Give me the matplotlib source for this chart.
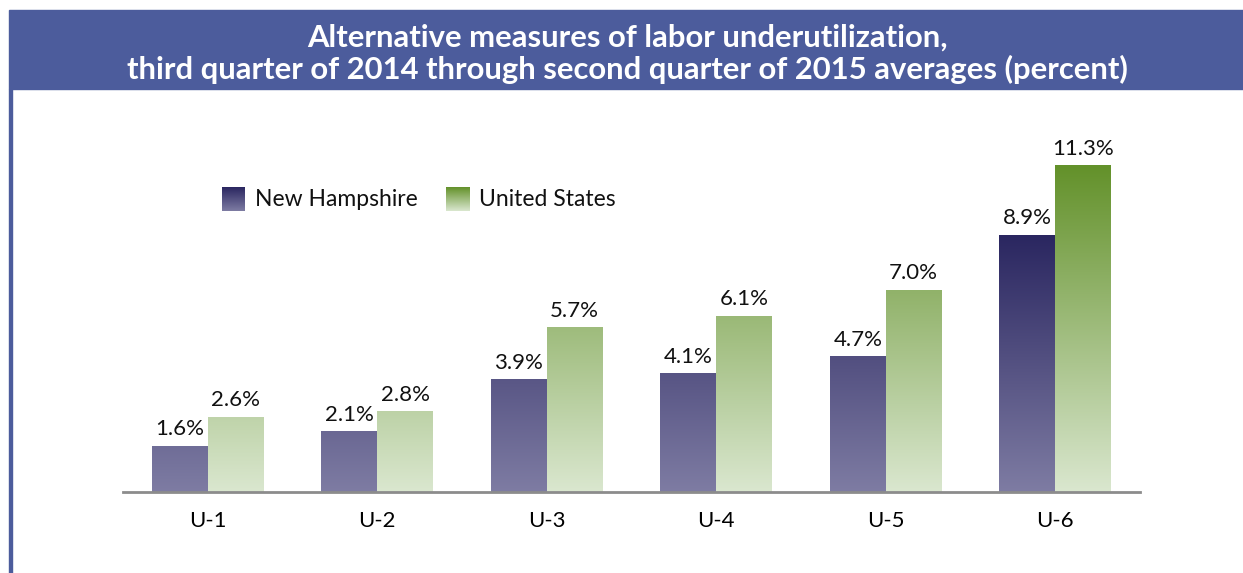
import matplotlib.pyplot as plt
import numpy as np
from matplotlib.colors import LinearSegmentedColormap
from matplotlib.patches import Rectangle

categories = ['U-1', 'U-2', 'U-3', 'U-4', 'U-5', 'U-6']
new_hampshire = [1.6, 2.1, 3.9, 4.1, 4.7, 8.9]
united_states = [2.6, 2.8, 5.7, 6.1, 7.0, 11.3]
series_names = ['New Hampshire', 'United States']
title = ('Alternative measures of labor underutilization,\n'
         'third quarter of 2014 through second quarter of 2015 averages (percent)')

plt.rcParams['font.family'] = ['Lato', 'DejaVu Sans']

nh_cmap = LinearSegmentedColormap.from_list('nh', ['#7e7ca3', '#2a2660'])
us_cmap = LinearSegmentedColormap.from_list('us', ['#dae7cf', '#63912a'])

fig = plt.figure(figsize=(12.43, 5.73), dpi=100)

# title band and left frame line
fig.patches.append(Rectangle((9 / 1243, 1 - 89 / 573), 1, 79 / 573,
                             transform=fig.transFigure, color='#4c5c9c', zorder=0))
fig.patches.append(Rectangle((9 / 1243, 0), 3 / 1243, 1 - 89 / 573,
                             transform=fig.transFigure, color='#4c5c9c', zorder=0))
fig.text(0.505, 1 - 54 / 573, title, ha='center', va='center', color='white',
         fontsize=22.3, fontweight='bold', linespacing=1.12)

ax = fig.add_axes([123 / 1243, 81 / 573, 1017 / 1243, 347 / 573])
x = np.arange(len(categories))
w = 0.33
ymax = 12

grad = np.linspace(0, 1, 256).reshape(-1, 1)
for vals, cmap, off in [(new_hampshire, nh_cmap, -w / 2),
                        (united_states, us_cmap, w / 2)]:
    top = max(vals)
    bars = ax.bar(x + off, vals, w, color='none', edgecolor='none')
    for b, v in zip(bars, vals):
        im = ax.imshow(grad, cmap=cmap, origin='lower', aspect='auto',
                       extent=[b.get_x(), b.get_x() + w, 0, top], zorder=2)
        im.set_clip_path(b)
        ax.text(b.get_x() + w / 2, v + 0.22, f'{v:.1f}%', ha='center', va='bottom',
                fontsize=16, color='#111111')

# legend with gradient swatches (axes coords)
legend_items = [(series_names[0], nh_cmap, 0.097), (series_names[1], us_cmap, 0.318)]
for name, cmap, lx in legend_items:
    ax.imshow(grad, cmap=cmap, origin='lower', aspect='auto',
              extent=[lx, lx + 23 / 1017, 0.81, 0.81 + 23 / 347],
              transform=ax.transAxes, zorder=3)
    ax.text(lx + 33 / 1017, 0.81 + 11.5 / 347, name, transform=ax.transAxes,
            ha='left', va='center', fontsize=16.5, color='#111111')

ax.set_xlim(-0.5, len(categories) - 0.5)
ax.set_ylim(0, ymax)
ax.set_xticks(x)
ax.set_xticklabels(categories, fontsize=16)
ax.tick_params(axis='x', length=0, pad=14)
ax.set_yticks([])
for s in ['top', 'right', 'left']:
    ax.spines[s].set_visible(False)
ax.spines['bottom'].set_color('#8c8c8c')
ax.spines['bottom'].set_linewidth(2)

fig.savefig('out.png', dpi=100)
